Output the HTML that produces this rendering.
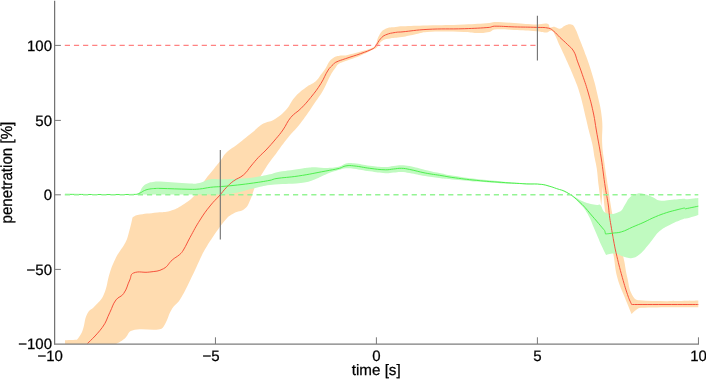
<!DOCTYPE html>
<html><head><meta charset="utf-8"><title>plot</title>
<style>
html,body{margin:0;padding:0;background:#fff;}
body{width:706px;height:379px;overflow:hidden;}
svg{display:block;}
text{font-family:"Liberation Sans",sans-serif;font-size:15px;fill:#000;stroke:#000;stroke-width:0.25px;text-rendering:geometricPrecision;}
</style></head><body>
<svg width="706" height="379" viewBox="0 0 706 379">
<rect x="0" y="0" width="706" height="379" fill="#ffffff"/>
<defs><filter id="g" filterUnits="userSpaceOnUse" x="0" y="0" width="706" height="379" color-interpolation-filters="sRGB"><feOffset dx="0" dy="0"/></filter><clipPath id="plot"><rect x="54.5" y="0" width="644.5" height="344"/></clipPath></defs>
<g clip-path="url(#plot)">
<path d="M65.0,340.3C65.0,340.3 77.0,339.8 77.0,339.8C77.0,339.8 80.7,335.4 82.4,331.0C85.4,323.4 83.7,321.0 87.4,313.6C89.6,309.3 91.7,309.7 94.9,306.0C99.1,301.2 101.0,300.8 103.6,294.9C107.9,285.2 106.6,282.5 109.9,272.4C112.2,265.5 113.0,263.9 116.0,257.5C117.5,254.4 118.1,253.9 120.0,251.0C121.8,248.2 122.4,247.9 124.0,245.0C125.8,241.7 126.4,241.1 127.5,237.5C130.1,229.2 132.5,217.5 132.5,217.5C132.5,217.5 135.0,215.5 137.5,215.0C145.0,213.5 148.4,213.6 157.5,212.5C163.2,211.8 164.5,212.6 170.0,211.0C176.0,209.2 177.2,208.4 182.5,205.0C188.6,201.1 190.1,200.4 195.0,195.0C200.5,188.9 200.2,186.6 205.0,180.0C209.3,174.1 210.5,173.2 215.0,167.5C217.7,164.1 218.4,163.5 221.0,160.0C223.4,156.9 223.2,155.7 226.0,153.0C231.2,148.1 232.9,147.9 238.5,143.5C244.2,139.1 245.3,138.1 251.0,133.6C256.7,129.1 257.2,127.4 263.4,123.6C267.5,121.1 269.3,122.4 273.4,119.9C279.6,116.1 280.9,115.2 285.9,109.9C290.6,104.9 290.0,102.6 294.6,97.4C299.1,92.3 300.4,91.5 305.8,87.4C310.0,84.2 311.7,84.6 315.8,81.2C318.6,78.8 318.6,77.7 320.8,74.8C323.1,71.7 323.7,71.2 325.8,68.0C327.5,65.4 327.2,64.5 329.0,62.0C330.6,59.8 330.9,59.2 333.2,57.9C336.3,56.2 337.2,56.3 340.7,55.6C342.9,55.2 343.5,55.8 345.7,55.4C351.7,54.2 353.9,53.6 360.7,51.6C366.4,49.9 368.6,49.4 373.1,47.4C374.6,46.7 374.9,46.3 375.6,44.9C377.5,41.1 376.8,39.0 379.4,34.9C381.5,31.5 382.0,30.5 385.6,28.7C389.7,26.7 391.0,27.6 395.6,26.9C398.5,26.5 399.1,26.3 402.0,26.2C411.4,25.8 415.6,25.7 427.0,25.4C444.0,24.9 447.4,25.1 464.3,24.4C475.7,23.9 480.3,23.6 489.3,22.9C491.6,22.7 492.0,21.9 494.3,21.9C501.8,21.9 505.2,22.4 514.2,22.9C524.4,23.5 527.3,24.2 536.7,24.4C540.7,24.5 541.8,23.5 545.4,23.5C547.0,23.5 547.5,23.4 548.7,24.4C549.8,25.4 548.6,26.8 550.0,27.4C551.9,28.1 552.7,26.6 554.9,26.9C557.3,27.2 557.5,29.0 559.9,28.7C562.5,28.4 562.4,26.6 564.9,25.7C567.6,24.7 568.2,24.0 571.1,24.4C573.0,24.6 573.5,25.3 574.4,26.9C577.0,31.5 577.5,33.9 579.9,39.9C582.8,47.2 583.5,48.7 586.1,56.1C589.1,64.5 589.8,66.2 592.3,74.8C594.9,83.4 595.4,85.2 597.3,94.0C599.8,105.2 600.9,107.4 602.0,118.9C603.1,130.2 601.6,132.5 602.2,143.9C602.6,151.3 603.0,152.7 604.0,160.0C605.7,172.8 606.2,175.3 608.2,188.0C609.9,199.3 610.1,201.6 612.1,212.8C614.3,225.2 614.2,227.8 617.3,240.0C619.1,247.0 620.9,248.0 622.8,255.0C625.5,265.0 624.9,267.3 627.3,277.4C629.2,285.4 628.5,288.0 632.2,294.9C634.2,298.6 635.5,299.9 639.7,300.3C659.5,302.0 698.3,300.6 698.3,300.6L698.3,307.3C698.3,307.3 660.1,306.7 641.0,307.8C637.8,308.0 637.4,309.3 634.7,311.1C633.1,312.2 631.7,314.1 631.7,314.1C631.7,314.1 627.8,305.0 624.8,297.4C621.3,288.4 619.8,286.8 617.3,277.4C614.6,267.4 615.4,265.2 613.5,255.0C610.0,235.8 608.4,232.1 605.4,212.8C603.6,200.9 602.9,186.5 602.9,186.5C602.9,186.5 601.4,206.4 601.4,206.4C601.4,206.4 599.8,195.3 598.7,186.0C597.7,178.2 597.9,176.6 596.8,168.8C596.1,163.8 595.6,162.9 594.7,158.0C593.5,151.6 593.7,150.3 592.3,143.9C590.9,137.5 590.3,136.3 588.7,130.0C587.5,125.0 587.3,123.9 586.1,118.9C583.5,108.1 583.1,105.2 579.9,94.0C578.0,87.4 577.4,86.2 574.9,79.8C571.7,71.7 570.9,70.2 567.4,62.3C564.1,54.9 563.3,53.5 559.9,46.1C557.6,41.0 557.4,39.5 554.9,34.9C553.8,32.8 553.9,31.5 551.6,30.8C549.3,30.1 549.0,32.3 546.6,32.4C542.1,32.5 541.2,31.5 536.7,31.2C527.0,30.4 524.4,30.3 514.2,29.9C505.2,29.5 501.8,28.8 494.3,29.4C491.8,29.6 491.8,31.4 489.3,31.9C484.1,32.9 482.5,32.9 476.8,32.9C471.1,32.9 470.0,32.0 464.3,31.9C449.4,31.6 441.9,31.1 427.0,31.9C421.2,32.2 420.2,33.3 414.5,34.4C408.8,35.5 407.7,36.0 402.0,36.9C395.7,37.9 394.1,37.4 388.1,38.7C385.1,39.3 384.3,39.2 381.9,41.1C379.0,43.3 379.5,44.9 376.9,47.4C375.5,48.7 374.9,48.5 373.1,49.4C368.2,51.8 366.5,52.9 360.7,55.4C354.0,58.3 352.4,58.4 345.7,61.1C342.3,62.5 341.2,62.4 338.2,64.3C336.6,65.3 336.8,66.0 335.7,67.5C333.4,70.7 332.7,71.4 330.7,75.0C327.0,81.6 327.1,83.4 323.3,89.9C319.2,97.0 317.9,98.1 313.3,104.9C309.9,110.0 309.3,111.1 305.8,116.1C302.5,120.7 301.9,121.7 298.3,126.1C294.0,131.4 292.6,132.0 288.3,137.3C282.4,144.5 281.5,146.2 276.0,153.7C271.4,159.9 270.1,160.9 266.0,167.4C260.8,175.6 259.7,177.3 255.5,186.0C252.6,192.0 253.1,193.7 250.3,199.8C248.3,204.0 248.6,205.6 245.0,208.6C240.6,212.2 238.5,210.7 233.5,213.5C229.7,215.6 228.8,216.1 226.0,219.3C219.7,226.5 218.4,229.1 212.5,237.5C208.7,243.0 207.8,244.8 204.6,250.0C203.3,252.2 203.1,252.7 202.0,255.0C197.5,264.4 195.6,269.4 189.7,281.2C185.4,289.8 184.9,291.8 179.7,299.9C176.9,304.3 174.9,304.1 172.2,308.6C168.0,315.6 168.4,318.6 164.7,324.8C163.1,327.4 162.7,328.8 159.7,329.3C150.0,331.0 142.8,327.7 132.3,330.5C127.5,331.8 128.6,335.3 124.8,338.5C121.2,341.5 116.0,344.0 116.0,344.0C116.0,344.0 65.0,344.0 65.0,344.0Z" fill="#ffdcb0"/>
<path d="M135.3,194.4C135.3,194.4 137.7,194.1 139.0,192.8C141.4,190.3 140.7,188.8 143.2,186.2C145.2,184.2 145.9,184.0 148.5,182.9C150.4,182.1 150.9,182.1 153.0,181.9C156.2,181.5 156.8,181.5 160.0,181.6C171.1,182.1 178.2,183.1 190.0,183.5C194.3,183.7 195.3,183.9 199.5,183.0C204.7,181.9 205.4,180.2 210.6,179.3C215.6,178.5 216.7,179.4 221.7,179.3C228.9,179.1 230.3,179.1 237.5,178.7C244.7,178.3 246.2,178.4 253.4,177.4C261.0,176.4 263.2,175.8 270.0,174.3C272.8,173.7 273.2,172.9 276.0,172.4C285.2,170.7 290.4,170.2 300.8,168.7C305.3,168.0 306.2,167.5 310.8,167.4C317.6,167.2 319.0,168.2 325.8,168.0C332.1,167.8 333.5,167.8 339.5,166.5C342.6,165.8 342.8,164.3 345.9,163.6C349.4,162.8 350.2,163.0 353.8,163.3C360.9,164.0 362.4,164.9 369.7,165.8C376.9,166.7 378.5,167.0 385.6,167.1C389.2,167.1 389.9,166.4 393.5,166.0C397.1,165.6 397.8,165.2 401.4,165.2C405.1,165.2 405.8,165.3 409.4,166.0C416.5,167.4 418.0,168.2 425.2,169.9C432.8,171.7 434.4,171.9 442.0,173.5C446.5,174.5 447.4,174.9 451.9,175.6C462.3,177.3 465.4,177.8 476.8,179.1C488.1,180.4 490.4,180.4 501.8,181.4C513.1,182.4 515.4,182.6 526.7,183.4C533.5,183.9 535.0,182.7 541.7,184.2C553.7,186.9 556.0,187.8 567.4,192.5C573.5,195.0 574.0,197.0 579.9,199.9C584.3,202.1 585.2,202.4 589.9,203.7C593.2,204.6 594.2,204.5 597.3,204.9C598.7,205.1 599.3,204.1 600.3,205.0C602.9,207.4 601.7,211.4 605.9,212.9C611.6,214.9 613.7,214.1 619.4,211.7C623.0,210.2 622.5,208.1 624.8,204.9C627.2,201.6 626.8,200.1 629.8,197.4C632.6,194.9 633.5,194.5 637.2,193.7C640.5,193.0 641.4,193.5 644.7,194.2C648.2,195.0 648.9,195.5 652.2,196.9C655.7,198.3 656.0,199.8 659.7,200.4C664.2,201.2 665.2,200.2 669.7,199.9C676.5,199.4 679.7,198.9 684.6,198.7C685.2,198.7 685.3,199.2 685.9,199.2C690.0,199.0 698.3,197.9 698.3,197.9L698.3,214.9C698.3,214.9 690.0,217.5 685.9,218.6C685.3,218.8 685.2,218.4 684.6,218.6C679.7,220.5 676.3,221.6 669.7,224.9C664.9,227.3 663.8,227.6 659.7,231.1C655.7,234.5 655.6,235.9 652.2,239.9C649.9,242.7 649.6,243.4 647.2,246.2C643.9,250.0 643.6,251.1 639.7,254.2C636.7,256.6 636.0,257.3 632.2,258.0C628.9,258.6 628.1,257.8 624.8,257.0C620.1,255.8 619.6,254.1 614.8,253.6C610.8,253.2 606.1,255.0 606.1,255.0C606.1,255.0 603.9,250.9 602.3,247.3C598.9,239.8 598.3,237.8 594.8,229.9C591.5,222.5 591.4,220.7 587.4,213.6C584.6,208.7 583.9,207.7 579.9,203.7C574.7,198.4 574.0,196.6 567.4,193.3C556.4,187.8 553.7,187.4 541.7,184.8C535.0,183.3 533.5,184.6 526.7,184.4C515.4,184.0 513.1,184.0 501.8,183.4C490.4,182.8 488.2,182.5 476.8,181.6C465.5,180.7 462.3,180.3 451.9,179.4C447.4,179.0 446.5,179.1 442.0,178.5C434.3,177.6 432.8,177.4 425.2,176.1C418.0,174.9 416.5,174.3 409.4,173.0C405.8,172.4 405.1,172.0 401.4,171.9C397.8,171.8 397.1,172.2 393.5,172.5C389.9,172.8 389.2,173.4 385.6,173.2C378.5,172.8 376.9,172.3 369.7,171.3C362.4,170.3 360.9,169.6 353.8,168.7C350.2,168.3 349.5,168.0 345.9,168.3C342.9,168.5 342.4,168.9 339.5,169.8C333.5,171.6 331.9,172.0 325.8,174.4C320.0,176.6 319.2,177.9 313.3,179.9C307.8,181.8 306.6,182.3 300.8,183.0C287.8,184.5 283.9,183.3 270.0,184.9C262.3,185.8 260.9,186.7 253.4,188.5C246.1,190.2 244.8,190.9 237.5,192.5C231.9,193.7 225.0,194.6 225.0,194.6C225.0,194.6 135.3,194.6 135.3,194.6Z" fill="#c0fac0"/>
<path d="M87.4,343.5C87.4,343.5 96.5,335.4 102.4,327.3C106.9,321.1 106.5,319.1 109.9,312.3C112.7,306.7 112.3,305.0 116.0,299.9C118.7,296.3 121.1,297.3 123.6,293.6C127.5,288.0 126.8,286.1 129.8,279.9C131.3,276.7 130.2,274.3 133.5,273.0C139.5,270.6 142.5,273.1 149.8,272.0C156.1,271.1 157.9,271.7 163.5,268.7C168.4,266.1 168.0,263.7 172.2,260.0C175.4,257.2 176.5,257.3 179.7,254.5C181.7,252.7 182.0,252.3 183.4,250.0C186.5,244.9 186.9,243.1 190.0,237.5C194.4,229.5 195.1,227.7 200.0,220.0C204.2,213.4 205.1,212.1 210.0,206.0C214.2,200.7 215.5,200.1 220.0,195.0C222.8,191.8 223.1,190.9 226.0,187.9C229.2,184.6 229.8,183.8 233.5,181.0C237.8,177.8 239.5,178.4 243.5,174.9C247.5,171.5 247.6,170.0 251.0,166.0C254.3,162.1 254.9,161.2 258.4,157.4C261.7,153.9 262.7,153.5 266.0,150.0C270.7,145.0 271.6,143.9 276.0,138.7C279.3,134.8 280.0,134.1 282.9,130.0C286.8,124.4 286.5,122.6 290.8,117.4C294.7,112.8 296.5,112.9 300.8,108.6C305.6,103.8 306.5,102.7 310.8,97.4C315.6,91.4 316.7,90.2 320.8,83.7C324.6,77.7 324.5,75.8 328.2,70.0C330.0,67.2 330.9,66.8 333.2,64.5C334.3,63.4 334.3,62.9 335.7,62.3C339.4,60.5 341.1,60.2 345.7,58.6C352.5,56.2 353.9,56.1 360.7,53.6C366.4,51.5 368.6,50.9 373.1,48.6C374.5,47.9 374.6,47.4 375.6,46.1C377.9,43.1 377.9,41.7 380.6,38.7C382.5,36.6 383.0,36.0 385.6,34.9C389.9,33.1 391.0,33.2 395.6,32.4C398.5,31.9 399.1,32.2 402.0,31.9C411.4,31.0 415.6,30.0 427.0,29.4C443.9,28.5 447.4,29.2 464.3,28.7C475.7,28.3 480.3,28.1 489.3,27.4C491.6,27.2 492.0,26.2 494.3,26.2C501.8,26.1 505.2,26.6 514.2,26.9C524.4,27.2 526.5,27.0 536.7,27.4C542.2,27.6 543.6,27.1 548.7,28.2C551.3,28.8 551.7,29.5 553.7,31.2C556.8,33.7 557.0,34.6 559.9,37.4C563.3,40.6 564.1,41.1 567.4,44.4C570.3,47.3 571.5,47.5 573.6,51.1C576.1,55.3 575.7,56.5 577.4,61.1C579.7,67.3 580.3,68.5 582.4,74.8C585.4,83.5 586.1,85.2 588.6,94.0C591.2,103.0 591.6,104.8 593.6,114.0C595.1,121.2 595.0,122.7 596.3,130.0C598.5,142.7 599.2,145.2 601.2,158.0C603.3,171.6 603.3,174.4 605.4,188.0C606.6,195.8 607.2,197.2 608.3,205.0C609.0,209.7 608.8,210.6 609.4,215.3C610.0,220.0 610.2,220.9 611.0,225.6C611.7,229.9 611.9,230.7 612.6,235.0C613.0,237.3 613.1,237.7 613.5,240.0C614.5,245.2 614.7,246.9 616.0,252.5C618.6,263.7 619.2,266.2 622.3,277.4C624.9,286.6 625.7,289.3 628.5,297.4C629.7,300.7 631.7,304.5 631.7,304.5C631.7,304.5 698.3,304.5 698.3,304.5" fill="none" stroke="#f64a36" stroke-width="0.95" stroke-linejoin="round"/>
<path d="M65.0,194.3C65.0,194.3 112.8,194.8 135.3,194.4C137.5,194.4 137.9,193.9 139.9,193.1C142.1,192.2 142.3,191.4 144.5,190.5C146.8,189.5 147.3,189.5 149.8,189.0C152.1,188.6 152.6,188.6 155.0,188.5C157.3,188.4 157.7,188.3 160.0,188.4C170.5,188.6 178.2,189.1 190.0,189.3C194.3,189.4 195.2,189.4 199.5,189.0C204.6,188.5 205.5,187.9 210.6,187.3C215.6,186.7 216.7,186.9 221.7,186.5C228.9,185.9 230.3,185.8 237.5,185.0C244.7,184.2 246.2,184.0 253.4,183.0C261.0,181.9 263.2,181.6 270.0,180.3C272.8,179.8 273.2,179.0 276.0,178.6C284.5,177.3 288.2,177.5 298.3,176.0C310.9,174.1 313.4,173.3 325.8,171.0C332.0,169.8 333.5,169.8 339.5,168.3C342.5,167.5 342.8,166.4 345.9,165.9C349.4,165.3 350.2,165.5 353.8,165.9C360.9,166.6 362.4,167.4 369.7,168.3C376.9,169.2 378.5,169.6 385.6,169.8C389.2,169.9 389.9,169.3 393.5,169.0C397.1,168.7 397.8,168.2 401.4,168.3C405.1,168.4 405.8,168.7 409.4,169.4C416.5,170.8 418.0,171.6 425.2,173.0C432.8,174.5 434.4,174.4 442.0,175.7C446.5,176.4 447.4,176.8 451.9,177.4C462.3,178.8 465.5,179.3 476.8,180.4C488.1,181.5 490.4,181.6 501.8,182.4C513.1,183.2 515.4,183.3 526.7,183.9C533.5,184.2 535.0,183.7 541.7,184.4C545.1,184.7 545.8,185.2 549.1,186.1C552.6,187.1 553.2,187.4 556.6,188.6C561.2,190.2 562.4,189.8 566.6,192.3C573.1,196.2 574.3,197.2 579.9,202.4C586.1,208.1 586.8,209.8 592.3,216.1C598.1,222.7 604.8,230.8 604.8,230.8C604.8,230.8 605.5,234.0 605.5,234.0C605.5,234.0 609.2,233.6 612.2,233.2C616.3,232.6 617.3,233.1 621.3,231.9C626.7,230.3 627.5,229.2 632.7,227.0C637.8,224.8 638.9,224.5 644.0,222.2C649.2,219.8 650.1,219.0 655.4,216.8C660.4,214.7 661.5,214.3 666.7,212.6C671.8,211.0 672.9,210.9 678.1,209.5C680.9,208.8 684.3,208.0 684.3,208.0C684.3,208.0 685.5,208.8 685.5,208.8C685.5,208.8 698.3,206.2 698.3,206.2" fill="none" stroke="#48ee48" stroke-width="0.95" stroke-linejoin="round"/>
<line x1="64.8" y1="45.4" x2="537.4" y2="45.4" stroke="#ff8282" stroke-width="1.35" stroke-dasharray="5.2 3.928"/>
<line x1="64.8" y1="194.7" x2="698.3" y2="194.7" stroke="#94f494" stroke-width="1.6" stroke-dasharray="5.2 3.928"/>
<line x1="220.3" y1="150" x2="220.3" y2="239.5" stroke="#707070" stroke-width="1.1"/>
<line x1="537.4" y1="15.7" x2="537.4" y2="60.6" stroke="#707070" stroke-width="1.1"/>
</g>
<g stroke="#686868" stroke-width="1.15" fill="none">
<line x1="54.65" y1="0.7" x2="54.65" y2="344.6"/>
<line x1="54.1" y1="344.05" x2="699" y2="344.05" stroke="#7c7c7c" stroke-width="1.2"/>
</g>
<g stroke="#787878" stroke-width="1" fill="none">
<line x1="54.65" y1="45.4" x2="60.9" y2="45.4"/>
<line x1="54.65" y1="120.4" x2="60.9" y2="120.4"/>
<line x1="54.65" y1="194.8" x2="60.9" y2="194.8"/>
<line x1="54.65" y1="269.4" x2="60.9" y2="269.4"/>
<line x1="215.45" y1="337.3" x2="215.45" y2="344"/>
<line x1="376.4" y1="337.3" x2="376.4" y2="344"/>
<line x1="537.4" y1="337.3" x2="537.4" y2="344"/>
<line x1="698.45" y1="337.3" x2="698.45" y2="344"/>
</g>
<g filter="url(#g)"><g text-anchor="end">
<text x="52" y="50.5">100</text>
<text x="52" y="125.5">50</text>
<text x="52" y="199.8">0</text>
<text x="52" y="274.5">−50</text>
<text x="52" y="349.3">−100</text>
</g>
<g text-anchor="middle">
<text x="50.2" y="360.8">−10</text>
<text x="211.1" y="360.8">−5</text>
<text x="376.4" y="360.8">0</text>
<text x="537.5" y="360.8">5</text>
<text x="698.5" y="360.8">10</text>
<text x="376.2" y="375" style="font-size:15.2px">time [s]</text>
<text transform="translate(11.7,172.6) rotate(-90) scale(1,1.06)" style="font-size:15.15px">penetration [%]</text>
</g></g>
</svg>
</body></html>
